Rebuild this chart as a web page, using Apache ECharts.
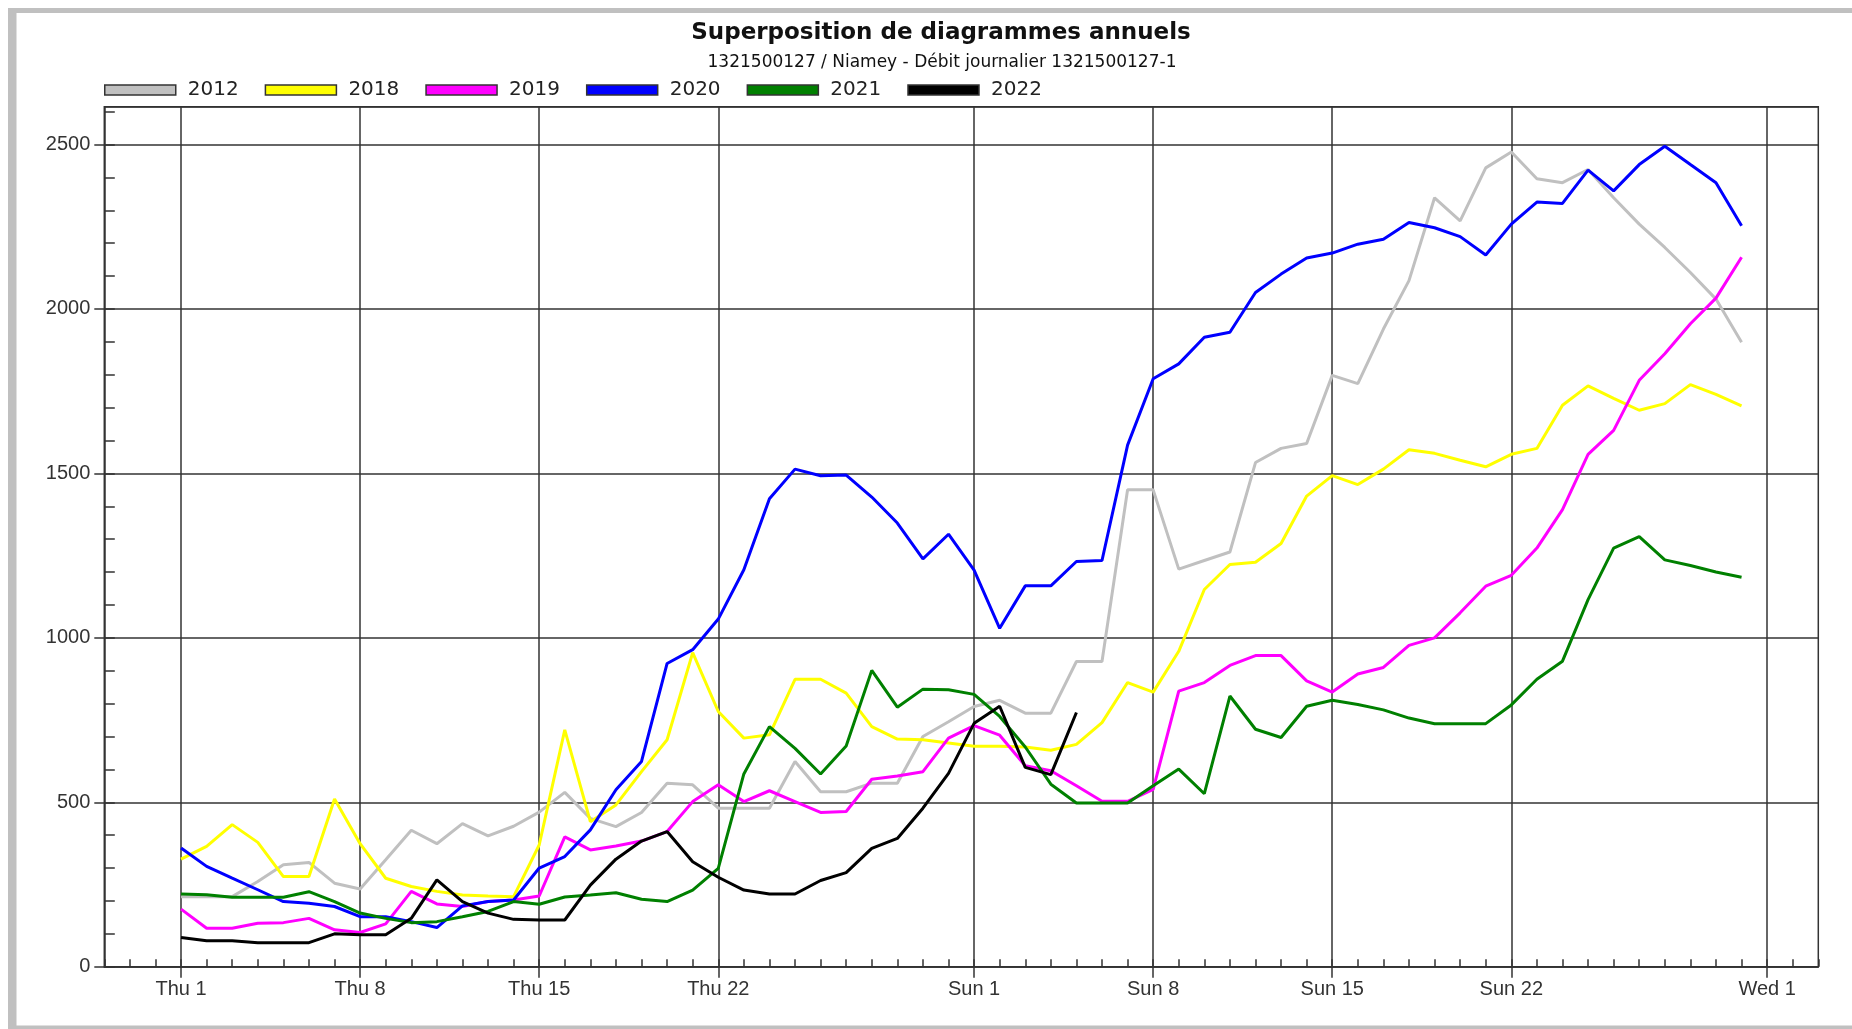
<!DOCTYPE html>
<html><head><meta charset="utf-8">
<script src="https://cdn.jsdelivr.net/npm/echarts@6/dist/echarts.min.js"></script>
<style>html,body{margin:0;padding:0;background:#fff;overflow:hidden}#c{width:1852px;height:1029px}</style>
</head><body><div id="c"></div>
<script>
const years = ['2012', '2018', '2019', '2020', '2021', '2022'];
const colors = ['#c0c0c0', '#ffff00', '#ff00ff', '#0000ff', '#008000', '#000000'];

// daily discharge, day 0 = Thu 1 ... day 61
const s2012 = [213,213,213,259,310,317,254,236,325,415, 374,435,398,427,470,530,451,426,469,558, 553,482,482,482,624,532,532,558,558,700, 745,791,810,771,771,928,928,1450,1450,1209, 1235,1261,1533,1576,1591,1798,1773,1939,2086,2338, 2268,2429,2477,2396,2384,2424,2338,2258,2187,2111, 2030,1899];
const s2018 = [327,366,432,378,274,274,510,374,269,244, 229,218,215,213,370,720,441,492,593,690, 955,776,695,705,874,874,832,730,692,690, 680,670,670,668,658,676,742,864,835,959, 1147,1223,1230,1287,1431,1493,1466,1513,1572,1561, 1540,1520,1558,1576,1707,1766,1728,1692,1712,1770, 1740,1705];
const s2019 = [175,117,117,132,134,147,112,104,130,229, 191,183,198,203,215,395,355,367,382,411, 502,553,502,535,502,469,472,570,580,593, 695,733,704,611,596,550,503,503,539,838, 864,916,946,946,869,835,890,910,977,1000, 1076,1157,1190,1273,1390,1558,1631,1783,1864,1955, 2033,2157];
const s2020 = [361,305,269,234,198,193,183,152,152,137, 119,185,198,203,300,335,416,538,624,922, 964,1057,1207,1423,1513,1493,1495,1428,1349,1240, 1315,1206,1029,1158,1158,1232,1235,1586,1788,1833, 1914,1929,2050,2106,2155,2170,2197,2212,2263,2247, 2220,2164,2258,2325,2321,2422,2359,2439,2495,2439, 2384,2253];
const s2021 = [221,219,211,211,211,228,198,163,147,134, 137,152,168,198,190,212,218,225,205,198, 233,299,586,730,664,586,671,901,789,844, 842,828,761,668,555,498,498,498,550,601, 526,823,722,697,792,810,797,781,756,739, 739,739,796,874,929,1116,1273,1308,1237,1220, 1200,1184];
const s2022 = [89,79,79,73,73,73,100,97,97,147, 264,198,163,144,142,142,248,327,382,411, 319,272,233,221,221,262,286,360,390,482, 588,740,792,606,584,773];
const seriesValues = [s2012, s2018, s2019, s2020, s2021, s2022];

const majorDays = [0, 7, 14, 21, 31, 38, 45, 52, 62];
const majorLabels = ['Thu 1', 'Thu 8', 'Thu 15', 'Thu 22', 'Sun 1', 'Sun 8', 'Sun 15', 'Sun 22', 'Wed 1'];
const firstDay = -3, lastDay = 64;
const yMax = 2615;
const yMinorTicks = [0,100,200,300,400,500,600,700,800,900,1000,1100,1200,1300,1400,1500,1600,1700,1800,1900,2000,2100,2200,2300,2400,2500,2600];

const days = [];
for (let d = firstDay; d <= lastDay; d++) days.push(String(d));
const pad = [];
for (let d = firstDay; d < 0; d++) pad.push(null);
const isMajor = (i) => majorDays.indexOf(i + firstDay) >= 0;

const lineCol = '#333';
const chart = echarts.init(document.getElementById('c'), null, {renderer: 'canvas'});
chart.setOption({
  animation: false,
  backgroundColor: '#ffffff',
  title: [
    {text: 'Superposition de diagrammes annuels', left: 941, top: 22, textAlign: 'center', padding: 0,
     textStyle: {fontFamily: 'DejaVu Sans', fontWeight: 'bold', fontSize: 23, color: '#111'}},
    {text: '1321500127 / Niamey - Débit journalier 1321500127-1', left: 942, top: 54, textAlign: 'center', padding: 0,
     textStyle: {fontFamily: 'DejaVu Sans', fontWeight: 'normal', fontSize: 17, color: '#111'}}
  ],
  legend: {
    data: years, top: 80, left: 104, padding: 0, itemWidth: 71, itemHeight: 10, itemGap: 26,
    icon: 'rect', selectedMode: false,
    itemStyle: {borderColor: '#333', borderWidth: 1.5},
    textStyle: {fontFamily: 'DejaVu Sans', fontSize: 20, color: '#222', padding: [0, 0, 0, 7]}
  },
  grid: {left: 104.3, top: 106.7, right: 33.7, bottom: 62.3, show: true, borderColor: lineCol, borderWidth: 1.5, backgroundColor: 'transparent'},
  graphic: [
    {type: 'rect', shape: {x: 8, y: 8, width: 8.5, height: 1021}, style: {fill: '#c0c0c0'}, silent: true},
    {type: 'rect', shape: {x: 8, y: 8, width: 1844, height: 5}, style: {fill: '#c0c0c0'}, silent: true},
    {type: 'rect', shape: {x: 8, y: 1025.5, width: 1844, height: 4}, style: {fill: '#c0c0c0'}, silent: true}
  ],
  xAxis: [
    {type: 'category', data: days, boundaryGap: false, position: 'bottom',
     axisLine: {show: true, lineStyle: {color: lineCol, width: 1.5}},
     axisTick: {show: true, interval: (i) => isMajor(i), inside: false, length: 11, lineStyle: {color: lineCol, width: 1.5}},
     axisLabel: {interval: (i) => isMajor(i), margin: 13, fontFamily: 'Liberation Sans', fontSize: 20, color: '#333',
       formatter: (v) => { const k = majorDays.indexOf(Number(v)); return k >= 0 ? majorLabels[k] : ''; }},
     splitLine: {show: true, interval: (i) => isMajor(i), lineStyle: {color: lineCol, width: 1.5}}},
    {type: 'category', data: days, boundaryGap: false, position: 'bottom',
     axisLine: {show: false},
     axisTick: {show: true, interval: 0, inside: true, length: 7.5, lineStyle: {color: lineCol, width: 1.5}},
     axisLabel: {show: false}, splitLine: {show: false}}
  ],
  yAxis: [
    {type: 'value', min: 0, max: yMax, interval: 500, position: 'left',
     axisLine: {show: true, lineStyle: {color: lineCol, width: 1.5}},
     axisTick: {show: true, inside: false, length: 10, lineStyle: {color: lineCol, width: 1.5}},
     axisLabel: {showMaxLabel: false, margin: 14, fontFamily: 'Liberation Sans', fontSize: 20, color: '#333',
       formatter: (v) => String(v)},
     splitLine: {show: true, lineStyle: {color: lineCol, width: 1.5}}},
    {type: 'value', min: 0, max: yMax, interval: 100, position: 'left',
     axisLine: {show: false},
     axisTick: {show: true, inside: true, length: 10.5, customValues: yMinorTicks, lineStyle: {color: lineCol, width: 1.5}},
     axisLabel: {show: false}, splitLine: {show: false}}
  ],
  series: years.map((y, i) => ({
    name: y, type: 'line', xAxisIndex: 0, yAxisIndex: 0,
    data: pad.concat(seriesValues[i]),
    symbol: 'none', showSymbol: false, connectNulls: false,
    lineStyle: {color: colors[i], width: 3},
    itemStyle: {color: colors[i]},
    emphasis: {disabled: true}, z: 2 + i
  }))
});
</script></body></html>
